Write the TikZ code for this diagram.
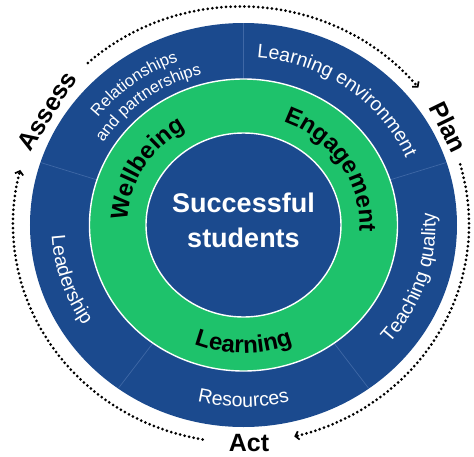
\documentclass[tikz,border=0pt]{standalone}
\usepackage{fontspec}
\setmainfont{Liberation Sans}
\usetikzlibrary{decorations.text,arrows.meta}

\definecolor{navy}{HTML}{1B4A8E}
\definecolor{leaf}{HTML}{1EC26B}
\definecolor{seam}{HTML}{3F68A6}

% horizontal stretch of the rings
\newcommand\xs{1.055}
\newcommand\ringfont{\fontsize{19.5}{19.5}\selectfont}
\newcommand\pairfont{\fontsize{16.5}{16.5}\selectfont}
\newcommand\corefont{\fontsize{24}{24}\selectfont\bfseries}

% text set along an elliptic arc: radius, start angle, end angle, colour, font, text
\newcommand\arctext[6]{%
  \pgfmathsetmacro\arcrx{\xs*#1}%
  \path[decorate,decoration={text along path,text align=center,text color=#4,text={|#5|#6}}]
    ({\arcrx*cos(#2)},{#1*sin(#2)}) arc[start angle=#2,end angle=#3,x radius=\arcrx,y radius=#1];}

% radial divider in the outer ring
\newcommand\seamline[1]{%
  \draw[seam,line width=0.7pt] ({\xs*146*cos(#1)},{146*sin(#1)}) -- ({\xs*202*cos(#1)},{202*sin(#1)});}

\begin{document}
\begin{tikzpicture}[x=1pt,y=1pt,
  dotline/.style={line width=3pt,line cap=round,dash pattern=on 0pt off 4.6pt,
    -{Straight Barb[length=3.5pt,width=8.5pt,line width=1.7pt]}},
  stagelabel/.style={font=\fontsize{25}{25}\selectfont\bfseries,text=black,inner sep=0pt},
  centrelabel/.style={font=\fontsize{27}{27}\selectfont\bfseries,text=white,inner sep=0pt,anchor=base}]

\useasboundingbox (-243.5,-231) rectangle (230.5,225);

% outer ring
\fill[navy] (0,0) ellipse[x radius=213.5,y radius=202];
\foreach \a in {90,18,-54,-126,162} {\seamline{\a}}

% green ring and central disc
\draw[white,line width=1.4pt,fill=leaf] (0,0) ellipse[x radius=154,y radius=146];
\draw[white,line width=1.4pt,fill=navy] (0,0) ellipse[x radius=97.5,y radius=92];

% outer ring labels
\arctext{168}{108}{0}{white}{\ringfont}{Learning environment}
\arctext{175}{172}{82}{white}{\pairfont}{Relationships}
\arctext{156}{172}{82}{white}{\pairfont}{and partnerships}
\arctext{182}{-63}{27}{white}{\ringfont}{Teaching quality}
\arctext{182}{-135}{-45}{white}{\ringfont}{Resources}
\arctext{182}{153}{243}{white}{\ringfont}{Leadership}

% green ring labels
\arctext{110}{194}{104}{black}{\corefont}{Wellbeing}
\arctext{110}{78}{-12}{black}{\corefont}{Engagement}
\arctext{128}{-135}{-45}{black}{\corefont}{Learning}

% centre
\node[centrelabel] (succ) at (0,13) {Successful};
\node[centrelabel] (stud) at (0,-22) {students};

% cycle stages
\node[stagelabel,rotate=58] (assess) at (-196.5,114) {Assess};
\node[stagelabel,rotate=-64] (plan) at (205,98) {Plan};
\node[stagelabel] (act) at (5.5,-218) {Act};

% dotted cycle arrows
\coordinate (fromassess) at (-155.7,162);
\coordinate (fromplan) at (216.7,60.6);
\coordinate (fromact) at (-40.9,-214.4);
\draw[dotline] (fromassess) arc[start angle=132.2,end angle=38.9,x radius=228,y radius=218];
\draw[dotline] (fromplan) arc[start angle=16,end angle=-76.5,x radius=228,y radius=218];
\draw[dotline] (fromact) arc[start angle=260.3,end angle=165.5,x radius=228,y radius=218];

\end{tikzpicture}
\end{document}
